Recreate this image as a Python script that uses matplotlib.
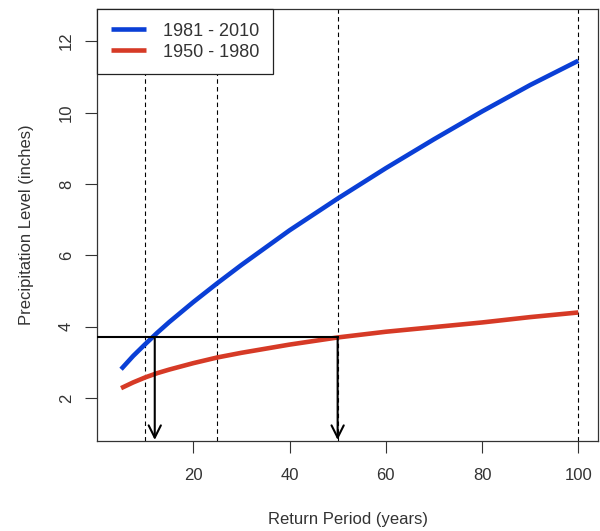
import matplotlib
matplotlib.use("Agg")
import matplotlib.pyplot as plt

plt.rcParams['font.family'] = ['Liberation Sans', 'DejaVu Sans']

# Data
return_period = [5, 7.5, 10, 12.5, 15, 20, 25, 30, 40, 50, 60, 70, 80, 90, 100]
level_1981_2010 = [2.81, 3.18, 3.51, 3.83, 4.13, 4.69, 5.22, 5.73, 6.70, 7.59, 8.44, 9.25, 10.03, 10.77, 11.45]
level_1950_1980 = [2.28, 2.44, 2.58, 2.70, 2.80, 2.98, 3.14, 3.27, 3.50, 3.70, 3.86, 3.99, 4.12, 4.27, 4.40]
series_labels = ["1981 - 2010", "1950 - 1980"]
ref_periods = [10, 25, 50, 100]
threshold_level = 3.7
arrow_periods = [12, 50]
x_ticks = [20, 40, 60, 80, 100]
y_ticks = [2, 4, 6, 8, 10, 12]

fig = plt.figure(figsize=(6.0, 5.31), dpi=100)
ax = fig.add_axes([97/600, 1-441/531, (598-97)/600, (441-9)/531])

ax.set_xlim(0, 104.1)
ax.set_ylim(0.80, 12.9)

for p in ref_periods:
    ax.axvline(p, color='black', lw=0.8, ls=(0, (4, 3)), zorder=1)

ax.plot(return_period, level_1981_2010, color='#0a3fd6', lw=3.3,
        solid_capstyle='butt', label=series_labels[0], zorder=3)
ax.plot(return_period, level_1950_1980, color='#d63a26', lw=3.3,
        solid_capstyle='butt', label=series_labels[1], zorder=3)

ax.plot([0, arrow_periods[-1]], [threshold_level, threshold_level],
        color='black', lw=1.5, zorder=4)
for p in arrow_periods:
    ax.annotate('', xy=(p, 0.83), xytext=(p, threshold_level),
                arrowprops=dict(arrowstyle='->', lw=1.5, color='black',
                                shrinkA=0, shrinkB=0, mutation_scale=22),
                zorder=4)

ax.set_xticks(x_ticks)
ax.set_yticks(y_ticks)
ax.tick_params(axis='both', length=8.5, width=0.8, color='#333333',
               labelsize=12, labelcolor='#333333')
ax.tick_params(axis='x', pad=11)
ax.tick_params(axis='y', pad=8)
for lab in ax.get_yticklabels():
    lab.set_rotation(90)
    lab.set_va('center')

for s in ax.spines.values():
    s.set_color('#333333')
    s.set_linewidth(0.9)

ax.set_xlabel('Return Period (years)', fontsize=12, color='#333333', labelpad=21)
ax.set_ylabel('Precipitation Level (inches)', fontsize=12, color='#333333', labelpad=18)

leg = ax.legend(loc='upper left', bbox_to_anchor=(0, 1), borderaxespad=0,
                fontsize=13, frameon=True, fancybox=False, handlelength=1.95,
                handletextpad=0.95, borderpad=0.75, labelspacing=0.22)
leg.get_frame().set_edgecolor('#222222')
leg.get_frame().set_linewidth(0.9)
leg.get_frame().set_alpha(1)
leg.set_zorder(10)
for t in leg.get_texts():
    t.set_color('#333333')

fig.savefig('out.png', dpi=100)
